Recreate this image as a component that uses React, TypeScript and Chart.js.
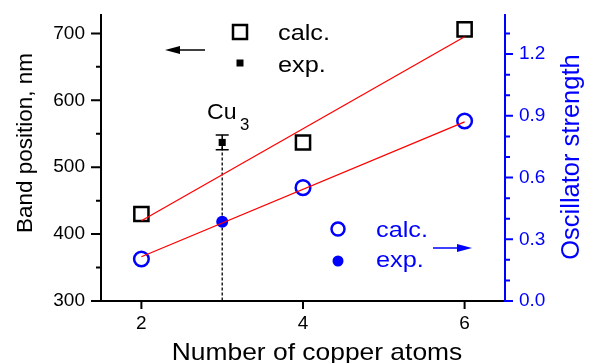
import React, { useEffect, useRef } from 'react';
import { Chart, registerables } from 'chart.js';

Chart.register(...registerables);

// ---- data ----
const atomsCalc = [2, 4, 6];
const bandCalc = [430, 537, 706];
const atomsExp = [3];
const bandExp = [537];
const bandExpErr = [11];
const oscCalc = [0.204, 0.551, 0.875];
const oscExp = [0.385];
const fitX = [2, 6];
const bandFit = [420, 695];
const oscFit = [0.215, 0.871];

const xTicks = [2, 4, 6];
const bandTicks = [300, 400, 500, 600, 700];
const bandMinor = [350, 450, 550, 650];
const oscTicks = [0, 0.3, 0.6, 0.9, 1.2];
const oscMinor = [0.1, 0.2, 0.4, 0.5, 0.7, 0.8, 1.0, 1.1, 1.3];

const xTitle = 'Number of copper atoms';
const leftTitle = 'Band position, nm';
const rightTitle = 'Oscillator strength';
const legendCalc = 'calc.';
const legendExp = 'exp.';
const clusterLabel = 'Cu';
const clusterSub = '3';

const FONT = '"Liberation Sans", Arial, sans-serif';
const BLUE = '#0000ff';
const RED = '#ff0000';

function text(ctx: CanvasRenderingContext2D, s: string, x: number, y: number, size: number, color: string,
  align: CanvasTextAlign = 'left', sx = 1, rot = 0) {
  ctx.save();
  ctx.translate(x, y);
  if (rot) ctx.rotate(rot);
  ctx.scale(sx, 1);
  ctx.font = `${size}px ${FONT}`;
  ctx.fillStyle = color;
  ctx.textAlign = align;
  ctx.textBaseline = 'alphabetic';
  ctx.fillText(s, 0, 0);
  ctx.restore();
}

const overlay = {
  id: 'overlay',
  beforeDatasetsDraw(chart: any) {
    const { ctx, scales } = chart;
    const x = scales.x, yl = scales.yL;
    const ca = chart.chartArea;
    ctx.save();
    atomsExp.forEach((a, i) => {
      const px = x.getPixelForValue(a);
      const py = yl.getPixelForValue(bandExp[i]);
      ctx.strokeStyle = '#000';
      ctx.lineWidth = 1.3;
      ctx.setLineDash([3, 2]);
      ctx.beginPath();
      ctx.moveTo(px, py);
      ctx.lineTo(px, ca.bottom);
      ctx.stroke();
      ctx.setLineDash([]);
      const t = yl.getPixelForValue(bandExp[i] + bandExpErr[i]);
      const b = yl.getPixelForValue(bandExp[i] - bandExpErr[i]);
      ctx.lineWidth = 1.5;
      ctx.beginPath();
      ctx.moveTo(px, t);
      ctx.lineTo(px, b);
      ctx.moveTo(px - 6.5, t);
      ctx.lineTo(px + 6.5, t);
      ctx.moveTo(px - 6.5, b);
      ctx.lineTo(px + 6.5, b);
      ctx.stroke();
    });
    ctx.restore();
  },
  afterDraw(chart: any) {
    const { ctx, scales } = chart;
    const ca = chart.chartArea;
    const x = scales.x, yl = scales.yL, yr = scales.yR;
    ctx.save();
    ctx.lineWidth = 2;
    ctx.strokeStyle = '#000';
    ctx.beginPath();
    ctx.moveTo(ca.left, ca.top);
    ctx.lineTo(ca.left, ca.bottom + 1);
    ctx.moveTo(ca.left - 1, ca.bottom);
    ctx.lineTo(ca.right, ca.bottom);
    bandTicks.forEach(v => {
      const p = yl.getPixelForValue(v);
      ctx.moveTo(ca.left - 10, p);
      ctx.lineTo(ca.left, p);
    });
    bandMinor.forEach(v => {
      const p = yl.getPixelForValue(v);
      ctx.moveTo(ca.left - 5, p);
      ctx.lineTo(ca.left, p);
    });
    xTicks.forEach(v => {
      const p = x.getPixelForValue(v);
      ctx.moveTo(p, ca.bottom);
      ctx.lineTo(p, ca.bottom + 8);
    });
    ctx.stroke();
    ctx.strokeStyle = BLUE;
    ctx.beginPath();
    ctx.moveTo(ca.right, ca.top);
    ctx.lineTo(ca.right, ca.bottom + 1);
    oscTicks.forEach(v => {
      const p = yr.getPixelForValue(v);
      ctx.moveTo(ca.right, p);
      ctx.lineTo(ca.right + 8, p);
    });
    oscMinor.forEach(v => {
      const p = yr.getPixelForValue(v);
      ctx.moveTo(ca.right, p);
      ctx.lineTo(ca.right + 5, p);
    });
    ctx.stroke();

    // titles
    text(ctx, xTitle, 317, 360, 24, '#000', 'center', 1.1);
    text(ctx, leftTitle, 32, 143, 22.5, '#000', 'center', 1, -Math.PI / 2);
    text(ctx, rightTitle, 579, 157, 25.5, BLUE, 'center', 1, -Math.PI / 2);

    // top legend (left axis)
    ctx.fillStyle = '#000';
    ctx.strokeStyle = '#000';
    ctx.lineWidth = 2.5;
    ctx.strokeRect(233, 25, 14, 14);
    ctx.fillRect(236.5, 59.5, 7, 7);
    text(ctx, legendCalc, 278, 40, 22, '#000', 'left', 1.15);
    text(ctx, legendExp, 278, 72, 22, '#000', 'left', 1.15);
    ctx.lineWidth = 1.5;
    ctx.beginPath();
    ctx.moveTo(205, 50);
    ctx.lineTo(175, 50);
    ctx.stroke();
    ctx.beginPath();
    ctx.moveTo(165, 50);
    ctx.lineTo(180, 46);
    ctx.lineTo(180, 54);
    ctx.closePath();
    ctx.fill();

    // bottom legend (right axis)
    ctx.fillStyle = BLUE;
    ctx.strokeStyle = BLUE;
    ctx.lineWidth = 2.5;
    ctx.beginPath();
    ctx.arc(338, 229, 6.5, 0, Math.PI * 2);
    ctx.stroke();
    ctx.beginPath();
    ctx.arc(338, 261, 5.5, 0, Math.PI * 2);
    ctx.fill();
    text(ctx, legendCalc, 376, 237, 22, BLUE, 'left', 1.15);
    text(ctx, legendExp, 376, 267, 22, BLUE, 'left', 1.15);
    ctx.lineWidth = 1.5;
    ctx.beginPath();
    ctx.moveTo(433, 248);
    ctx.lineTo(460, 248);
    ctx.stroke();
    ctx.beginPath();
    ctx.moveTo(472, 248);
    ctx.lineTo(457, 244);
    ctx.lineTo(457, 252);
    ctx.closePath();
    ctx.fill();

    // Cu3 label
    text(ctx, clusterLabel, 207, 119, 22, '#000', 'left', 1.05);
    text(ctx, clusterSub, 240, 130, 16, '#000', 'left', 1.05);
    ctx.restore();
  },
};

export default function App() {
  const ref = useRef<HTMLCanvasElement>(null);
  useEffect(() => {
    if (!ref.current) return;
    const pts = (xs: number[], ys: number[]) => xs.map((v, i) => ({ x: v, y: ys[i] }));
    const noPad = (s: any) => { s.paddingTop = 0; s.paddingBottom = 0; s.paddingLeft = 0; s.paddingRight = 0; };
    const chart = new Chart(ref.current, {
      type: 'scatter',
      data: {
        datasets: [
          { data: pts(fitX, bandFit), yAxisID: 'yL', showLine: true, borderColor: RED, borderWidth: 1.3, pointRadius: 0, order: 0 },
          { data: pts(fitX, oscFit), yAxisID: 'yR', showLine: true, borderColor: RED, borderWidth: 1.3, pointRadius: 0, order: 0 },
          {
            data: pts(atomsCalc, bandCalc), yAxisID: 'yL', pointStyle: 'rect', pointRadius: 10,
            borderColor: '#000', backgroundColor: 'rgba(0,0,0,0)', borderWidth: 2.5, order: 1,
          },
          {
            data: pts(atomsExp, bandExp), yAxisID: 'yL', pointStyle: 'rect', pointRadius: 5,
            borderColor: '#000', backgroundColor: '#000', borderWidth: 0, order: 1,
          },
          {
            data: pts(atomsCalc, oscCalc), yAxisID: 'yR', pointStyle: 'circle', pointRadius: 7.3,
            borderColor: BLUE, backgroundColor: 'rgba(0,0,0,0)', borderWidth: 2.5, order: 1,
          },
          {
            data: pts(atomsExp, oscExp), yAxisID: 'yR', pointStyle: 'circle', pointRadius: 6,
            borderColor: BLUE, backgroundColor: BLUE, borderWidth: 0, order: 1,
          },
        ],
      },
      options: {
        animation: false,
        responsive: true,
        maintainAspectRatio: false,
        clip: false as any,
        layout: { padding: { top: 14, left: 0, right: 0, bottom: 0 } },
        plugins: { legend: { display: false }, tooltip: { enabled: false } },
        scales: {
          x: {
            type: 'linear', min: 1.5, max: 6.5,
            grid: { display: false, drawTicks: false },
            border: { display: false },
            afterBuildTicks: (s: any) => { s.ticks = xTicks.map(v => ({ value: v })); },
            afterFit: (s: any) => { s.height = 62; noPad(s); },
            ticks: { color: '#000', font: { family: FONT, size: 19 }, padding: 11 },
          },
          yL: {
            type: 'linear', position: 'left', min: 300, max: 729,
            grid: { display: false, drawTicks: false },
            border: { display: false },
            afterBuildTicks: (s: any) => { s.ticks = bandTicks.map(v => ({ value: v })); },
            afterFit: (s: any) => { s.width = 101; noPad(s); },
            ticks: { color: '#000', font: { family: FONT, size: 19 }, padding: 16 },
          },
          yR: {
            type: 'linear', position: 'right', min: 0, max: 1.395,
            grid: { display: false, drawTicks: false },
            border: { display: false },
            afterBuildTicks: (s: any) => { s.ticks = oscTicks.map(v => ({ value: v })); },
            afterFit: (s: any) => { s.width = 90; noPad(s); },
            ticks: {
              color: BLUE, font: { family: FONT, size: 19 }, padding: 14,
              callback: (v: any) => Number(v).toFixed(1),
            },
          },
        },
      },
      plugins: [overlay],
    } as any);
    return () => chart.destroy();
  }, []);
  return (
    <div style={{ position: 'fixed', left: 0, top: 0, width: 595, height: 363, background: '#fff' }}>
      <canvas ref={ref} />
    </div>
  );
}
